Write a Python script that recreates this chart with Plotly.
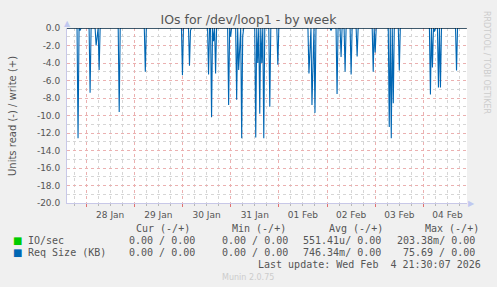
import plotly.graph_objects as go
import pandas as pd

# ---- data ----
range_start = "2026-01-27 14:30"
range_end = "2026-02-04 21:43"
sample_step = "30min"

spike_times = [
    "2026-01-27 20:00", "2026-01-27 21:00", "2026-01-28 02:00", "2026-01-28 05:00",
    "2026-01-28 05:30", "2026-01-28 06:30", "2026-01-28 16:30", "2026-01-29 05:30",
    "2026-01-30 00:00", "2026-01-30 03:30", "2026-01-30 04:00", "2026-01-30 13:00",
    "2026-01-30 14:30", "2026-01-30 15:30", "2026-01-30 16:30", "2026-01-30 23:00",
    "2026-01-31 00:00", "2026-01-31 03:00", "2026-01-31 04:00", "2026-01-31 04:30",
    "2026-01-31 05:30", "2026-01-31 06:00", "2026-01-31 12:30", "2026-01-31 13:30",
    "2026-01-31 14:30", "2026-01-31 15:30", "2026-01-31 16:30", "2026-01-31 19:30",
    "2026-01-31 23:30", "2026-02-01 15:00", "2026-02-01 15:30", "2026-02-01 16:30",
    "2026-02-01 17:00", "2026-02-01 18:00", "2026-02-02 02:00", "2026-02-02 05:00",
    "2026-02-02 07:00", "2026-02-02 09:00", "2026-02-02 12:00", "2026-02-02 15:00",
    "2026-02-02 23:00", "2026-02-03 00:00", "2026-02-03 07:00", "2026-02-03 08:00",
    "2026-02-03 09:00", "2026-02-03 12:00", "2026-02-04 03:30", "2026-02-04 04:30",
    "2026-02-04 05:30", "2026-02-04 07:30", "2026-02-04 08:30", "2026-02-04 16:30",
]
spike_values = [
    -12.6, -0.3, -7.4, -2.0,
    -1.0, -4.8, -9.6, -5.0,
    -5.4, -4.3, -0.3, -5.3,
    -10.2, -1.5, -5.2, -8.8,
    -1.0, -8.2, -4.8, -2.0,
    -12.6, -1.0, -12.5, -4.0,
    -9.8, -4.0, -12.6, -9.0,
    -4.2, -5.2, -1.5, -8.8,
    -2.0, -9.7, -0.3, -7.55,
    -3.3, -5.0, -5.3, -3.25,
    -5.0, -2.8, -11.3, -12.6,
    -8.6, -4.85, -7.6, -4.5,
    -0.4, -6.8, -6.8, -4.85,
]

y_tick_vals = [0, -2, -4, -6, -8, -10, -12, -14, -16, -18, -20]
y_tick_text = ["0.0", "-2.0", "-4.0", "-6.0", "-8.0", "-10.0", "-12.0",
               "-14.0", "-16.0", "-18.0", "-20.0"]

legend_headers = ["Cur (-/+)", "Min (-/+)", "Avg (-/+)", "Max (-/+)"]
series_names = ["IO/sec", "Req Size (KB)"]
series_colors = ["#00CC00", "#0066B3"]
legend_rows = [
    ["0.00 / 0.00", "0.00 / 0.00", "551.41u/ 0.00", "203.38m/ 0.00"],
    ["0.00 / 0.00", "0.00 / 0.00", "746.34m/ 0.00", "75.69 / 0.00"],
]
last_update = "Last update: Wed Feb  4 21:30:07 2026"
title_text = "IOs for /dev/loop1 - by week"
y_title = "Units read (-) / write (+)"
side_text = "RRDTOOL / TOBI OETIKER"
footer_text = "Munin 2.0.75"

# ---- build series ----
idx = pd.date_range(range_start, "2026-02-04 21:30", freq=sample_step)
s = pd.Series(0.0, index=idx)
for t, v in zip(spike_times, spike_values):
    s[pd.Timestamp(t)] = v

W, H = 497, 287
L, R, T, B = 67, 30, 28, 84
pw, ph = W - L - R, H - T - B

def px(x):
    return (x - L) / pw

def py(y):
    # y measured in pixels from the top of the image
    return (H - B - y) / ph

fig = go.Figure()
fig.add_trace(go.Scatter(x=s.index, y=s.values, mode="lines",
                         line=dict(color=series_colors[1], width=1.1),
                         hoverinfo="skip", showlegend=False))

fig.update_layout(
    width=W, height=H,
    margin=dict(l=L, r=R, t=T, b=B),
    paper_bgcolor="#F0F0F0", plot_bgcolor="#FFFFFF",
    showlegend=False,
    font=dict(family="DejaVu Sans", color="#555555", size=9),
    title=dict(text=title_text, x=0.5, xanchor="center", y=1 - 20 / H, yanchor="middle",
               font=dict(family="DejaVu Sans", size=12.5, color="#555555")),
)

fig.update_xaxes(
    type="date", range=[range_start, range_end],
    tick0="2026-01-28 00:00", dtick=86400000, ticklabelmode="period",
    tickformat="%d %b", tickfont=dict(size=9, color="#555555"),
    showgrid=True, gridcolor="#EBB0B0", griddash="dot", gridwidth=1,
    ticks="outside", ticklen=3, tickcolor="#E07070",
    minor=dict(dtick=6 * 3600000, showgrid=True, gridcolor="#D6D6D6", griddash="dot",
               ticks="outside", ticklen=2, tickcolor="#B8B8B8"),
    showline=True, linecolor="#C8C8E8", linewidth=1,
    zeroline=False,
)
fig.update_yaxes(
    range=[-20, 0], tickvals=y_tick_vals, ticktext=y_tick_text,
    tickfont=dict(size=9, color="#555555"),
    showgrid=True, gridcolor="#EBB0B0", griddash="dot", gridwidth=1,
    minor=dict(dtick=1, showgrid=True, gridcolor="#D6D6D6", griddash="dot"),
    showline=True, linecolor="#C8C8E8", linewidth=1,
    zeroline=False, ticks="", ticklabelstandoff=4,
)

# zero line
fig.add_shape(type="line", xref="paper", yref="y", x0=0, x1=1, y0=0, y1=0,
              line=dict(color="#000000", width=1))

ann = []
# axis arrows
ann.append(dict(text="▲", x=px(67), y=py(23), xref="paper", yref="paper",
                showarrow=False, font=dict(size=8, color="#C0C8F0"),
                xanchor="center", yanchor="middle"))
ann.append(dict(text="▶", x=px(471), y=py(203.5), xref="paper", yref="paper",
                showarrow=False, font=dict(size=8, color="#C0C8F0"),
                xanchor="center", yanchor="middle"))
# y title
ann.append(dict(text=y_title, x=px(12), y=py(116), xref="paper", yref="paper",
                textangle=-90, showarrow=False, xanchor="center", yanchor="middle",
                font=dict(family="DejaVu Sans", size=10, color="#555555")))
# side text
ann.append(dict(text=side_text, x=px(487), y=py(62), xref="paper", yref="paper",
                textangle=90, showarrow=False, xanchor="center", yanchor="middle",
                font=dict(family="DejaVu Sans", size=8, color="#CCCCCC")))

mono = "DejaVu Sans Mono"
col_x_header = [134, 230, 327, 423]
col_right = [197, 290, 383, 477]
for h, xh in zip(legend_headers, col_x_header):
    ann.append(dict(text=h, x=px(xh), y=py(228), xref="paper", yref="paper",
                    showarrow=False, xanchor="left", yanchor="middle",
                    font=dict(family=mono, size=10, color="#555555")))
row_y = [240, 252]
for name, color, vals, yy in zip(series_names, series_colors, legend_rows, row_y):
    ann.append(dict(text="■", x=px(17), y=py(yy), xref="paper", yref="paper",
                    showarrow=False, xanchor="center", yanchor="middle",
                    font=dict(family="DejaVu Sans", size=10, color=color)))
    ann.append(dict(text=name, x=px(26), y=py(yy), xref="paper", yref="paper",
                    showarrow=False, xanchor="left", yanchor="middle",
                    font=dict(family=mono, size=10, color="#555555")))
    for v, xr in zip(vals, col_right):
        ann.append(dict(text=v, x=px(xr), y=py(yy), xref="paper", yref="paper",
                        showarrow=False, xanchor="right", yanchor="middle",
                        font=dict(family=mono, size=10, color="#555555")))
ann.append(dict(text=last_update.replace("  ", "&nbsp; "), x=px(483), y=py(264),
                xref="paper", yref="paper", showarrow=False, xanchor="right",
                yanchor="middle", font=dict(family=mono, size=10, color="#555555")))
ann.append(dict(text=footer_text, x=px(248), y=py(277), xref="paper", yref="paper",
                showarrow=False, xanchor="center", yanchor="middle",
                font=dict(family="DejaVu Sans", size=8, color="#CCCCCC")))
fig.update_layout(annotations=ann)

fig.write_html("out.html")
